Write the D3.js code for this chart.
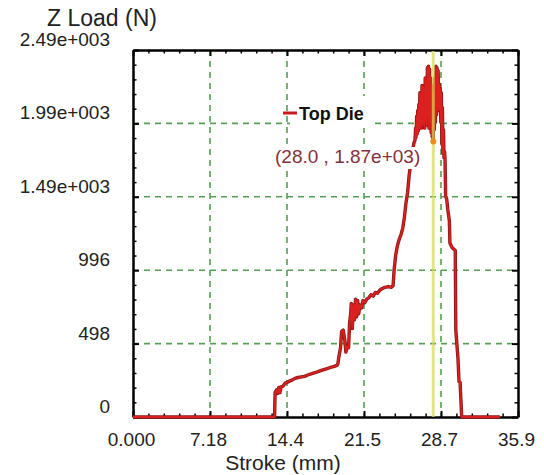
<!DOCTYPE html>
<html><head><meta charset="utf-8">
<script src="https://cdn.jsdelivr.net/npm/d3@7/dist/d3.min.js"></script>
<style>
html,body{margin:0;padding:0;background:#fff;}
svg{display:block;}
text{font-family:"Liberation Sans",Arial,sans-serif;}
</style></head>
<body>
<svg id="c" width="544" height="475"></svg>
<script>
// ---- data ----
const stroke = [0,13.2,13.25,13.4,13.5,13.6,13.7,13.8,14.0,14.2,14.5,14.8,15.1,15.4,15.7,16.0,16.3,16.6,16.9,17.2,17.5,17.8,18.1,18.4,18.7,19.0,19.1,19.2,19.35,19.45,19.6,19.75,19.85,20.0,20.1,20.2,20.3,20.35,20.45,20.55,20.65,20.75,20.85,20.95,21.05,21.15,21.3,21.45,21.6,21.8,22.0,22.2,22.4,22.6,22.8,23.0,23.2,23.5,23.8,24.1,24.25,24.35,24.5,24.65,24.8,25.0,25.15,25.3,25.45,25.6,25.75,25.9,26.05,26.2,
  26.30,26.35,26.40,26.45,26.50,26.55,26.60,26.65,26.70,26.75,26.80,26.85,26.90,26.95,27.00,27.05,27.10,27.15,27.20,27.25,27.30,27.35,27.40,27.45,27.50,27.55,27.60,27.65,27.70,27.75,27.80,27.85,27.90,27.95,28.00,28.05,28.10,28.15,28.20,28.25,28.30,28.35,28.40,28.45,28.50,28.55,28.60,28.65,28.70,28.75,28.80,28.85,28.90,28.95,29.00,29.05,29.10,
  29.15,29.25,29.35,29.5,29.55,29.75,30.05,30.1,30.3,30.4,30.5,30.65,34.2];
const load = [0,0,165,185,160,200,165,205,210,230,240,250,262,268,272,276,285,292,300,306,314,322,328,336,342,350,360,410,470,580,590,520,440,480,470,640,700,770,600,760,660,800,680,790,700,760,740,790,775,800,810,830,820,845,840,860,870,880,885,880,890,1000,1100,1160,1200,1240,1280,1350,1450,1520,1640,1720,1800,1860,
  1880,1960,1900,2040,1920,2080,1940,2120,1960,2200,1980,2180,1960,2250,2000,2240,1980,2220,1960,2300,2020,2280,1980,2370,2050,2380,1960,2360,2000,2300,1930,2250,1900,2150,1870,2200,1950,2300,2000,2380,2050,2370,2100,2350,2080,2260,2100,2230,2000,2200,1850,2100,1790,1950,1760,1800,1740,
  1500,1480,1410,1330,1180,1150,1130,590,400,240,235,0,0];
const xTicks = [0, 7.18, 14.36, 21.54, 28.72, 35.9];
const xTickLabels = ["0.000","7.18","14.4","21.5","28.7","35.9"];
const yTicks = [0, 498, 996, 1494, 1992, 2490];
const yTickLabels = ["0","498","996","1.49e+003","1.99e+003","2.49e+003"];
const seriesName = "Top Die";
const cursor = {x: 28.0, y: 1870, label: "(28.0 , 1.87e+03)"};
const xTitle = "Stroke (mm)";
const yTitle = "Z Load (N)";

// ---- layout ----
const svg = d3.select("#c");
const L = 133, R = 518, T = 50, B = 417;
const x = d3.scaleLinear().domain([0, 35.9]).range([L, R]);
const y = d3.scaleLinear().domain([0, 2490]).range([B, T]);

const minorX = d3.range(0, 25).map(i => i * 35.9 / 25).filter(v => !xTicks.some(t => Math.abs(t - v) < 0.01));
const minorY = d3.range(0, 25).map(i => i * 2490 / 25).filter(v => !yTicks.some(t => Math.abs(t - v) < 1));

// grid
const grid = svg.append("g").attr("stroke", "#55a055").attr("stroke-width", 1.6).attr("stroke-dasharray", "6,5");
grid.selectAll("line.v").data(xTicks.slice(1, -1)).join("line")
  .attr("x1", d => x(d)).attr("x2", d => x(d)).attr("y1", T).attr("y2", B);
grid.selectAll("line.h").data(yTicks.slice(1, -1)).join("line")
  .attr("y1", d => y(d)).attr("y2", d => y(d)).attr("x1", L).attr("x2", R);

// axes (ticks inward)
function styleAxis(g) {
  g.select(".domain").attr("stroke", "#000").attr("stroke-width", 2.5);
  g.selectAll(".tick line").attr("stroke", "#000").attr("stroke-width", 2);
}
const fontSz = 19;
const gB = svg.append("g").attr("transform", `translate(0,${B})`)
  .call(d3.axisBottom(x).tickValues(xTicks).tickSizeInner(-6).tickSizeOuter(0).tickPadding(16)
    .tickFormat((d, i) => xTickLabels[i]));
styleAxis(gB);
gB.selectAll("text").attr("font-size", fontSz).attr("fill", "#222").attr("dx", -2)
  .attr("font-family", '"Liberation Sans",Arial,sans-serif');
svg.append("g").attr("transform", `translate(0,${B})`)
  .call(d3.axisBottom(x).tickValues(minorX).tickSizeInner(-3.5).tickSizeOuter(0).tickFormat(""))
  .call(g => { g.select(".domain").remove(); g.selectAll("line").attr("stroke", "#000").attr("stroke-width", 1.5); });

const gL = svg.append("g").attr("transform", `translate(${L},0)`)
  .call(d3.axisLeft(y).tickValues(yTicks).tickSizeInner(-6).tickSizeOuter(0).tickPadding(23)
    .tickFormat((d, i) => yTickLabels[i]));
styleAxis(gL);
gL.selectAll("text").attr("font-size", fontSz).attr("fill", "#222").attr("dy", -4.5)
  .attr("font-family", '"Liberation Sans",Arial,sans-serif');
svg.append("g").attr("transform", `translate(${L},0)`)
  .call(d3.axisLeft(y).tickValues(minorY).tickSizeInner(-3.5).tickSizeOuter(0).tickFormat(""))
  .call(g => { g.select(".domain").remove(); g.selectAll("line").attr("stroke", "#000").attr("stroke-width", 1.5); });

const gT = svg.append("g").attr("transform", `translate(0,${T})`)
  .call(d3.axisTop(x).tickValues(xTicks).tickSizeInner(-6).tickSizeOuter(0).tickFormat(""));
styleAxis(gT);
svg.append("g").attr("transform", `translate(0,${T})`)
  .call(d3.axisTop(x).tickValues(minorX).tickSizeInner(-3.5).tickSizeOuter(0).tickFormat(""))
  .call(g => { g.select(".domain").remove(); g.selectAll("line").attr("stroke", "#000").attr("stroke-width", 1.5); });

const gR = svg.append("g").attr("transform", `translate(${R},0)`)
  .call(d3.axisRight(y).tickValues(yTicks).tickSizeInner(-6).tickSizeOuter(0).tickFormat(""));
styleAxis(gR);
svg.append("g").attr("transform", `translate(${R},0)`)
  .call(d3.axisRight(y).tickValues(minorY).tickSizeInner(-3.5).tickSizeOuter(0).tickFormat(""))
  .call(g => { g.select(".domain").remove(); g.selectAll("line").attr("stroke", "#000").attr("stroke-width", 1.5); });

// curve (dark edge + red core)
const pts = stroke.map((s, i) => [s, load[i]]);
const lineGen = d3.line().x(d => x(d[0])).y(d => y(d[1]));
svg.append("path").datum(pts)
  .attr("fill", "none").attr("stroke", "#8a1616").attr("stroke-width", 3.4).attr("stroke-linejoin", "round")
  .attr("d", lineGen);
svg.append("path").datum(pts)
  .attr("fill", "none").attr("stroke", "#dc2020").attr("stroke-width", 1.8).attr("stroke-linejoin", "round")
  .attr("d", lineGen);

// cursor line
svg.append("line").attr("x1", x(cursor.x)).attr("x2", x(cursor.x)).attr("y1", T + 1).attr("y2", B)
  .attr("stroke", "#d6dc50").attr("stroke-width", 3).attr("opacity", 0.7);
svg.append("circle").attr("cx", x(cursor.x)).attr("cy", y(cursor.y)).attr("r", 3).attr("fill", "#f08a1c");

// annotation with white background
const ann = svg.append("g");
ann.append("rect").attr("x", 273).attr("y", 147).attr("width", 155).attr("height", 22).attr("fill", "#fff");
ann.append("text").attr("x", 275).attr("y", 163).attr("font-size", 19).attr("fill", "#84303c").text(cursor.label);

// legend
const lg = svg.append("g");
lg.append("rect").attr("x", 290).attr("y", 96).attr("width", 83).attr("height", 32).attr("fill", "#fff");
lg.append("line").attr("x1", 283).attr("x2", 297).attr("y1", 113).attr("y2", 113).attr("stroke", "#c8191e").attr("stroke-width", 3);
lg.append("text").attr("x", 299).attr("y", 119.5).attr("font-size", 18).attr("font-weight", "bold").attr("fill", "#111").text(seriesName);

// titles
svg.append("text").attr("x", 102).attr("y", 26).attr("text-anchor", "middle").attr("font-size", 23).attr("fill", "#222").text(yTitle);
svg.append("text").attr("x", 283).attr("y", 470).attr("text-anchor", "middle").attr("font-size", 21).attr("fill", "#222").text(xTitle);
</script>
</body></html>
